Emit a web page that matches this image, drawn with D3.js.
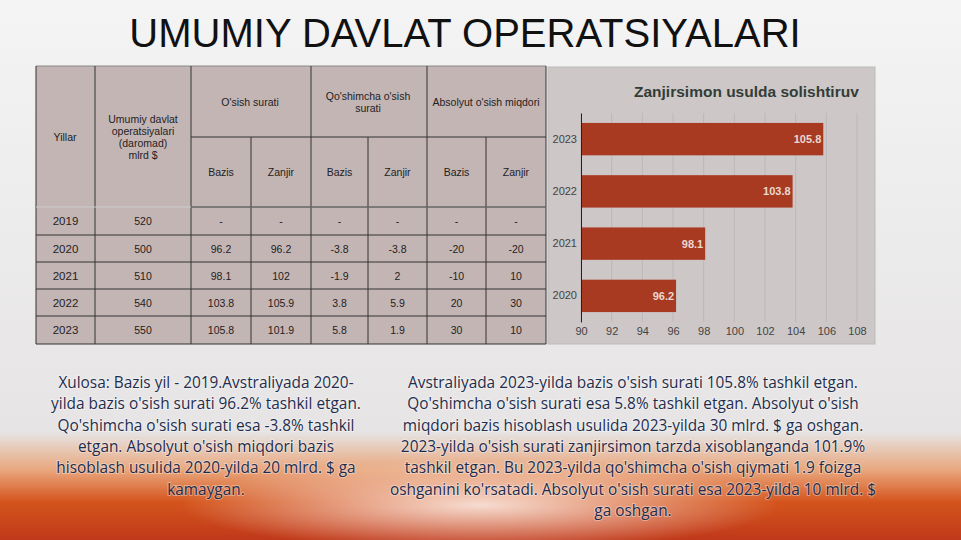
<!DOCTYPE html>
<html><head><meta charset="utf-8">
<script src="https://cdn.jsdelivr.net/npm/d3@7"></script>
<style>body{margin:0;overflow:hidden}</style>
</head><body>
<svg id="c" width="961" height="540"></svg>
<script>
const years = ["2019","2020","2021","2022","2023"];
const income = ["520","500","510","540","550"];
const bazisRate = ["-","96.2","98.1","103.8","105.8"];
const zanjirRate = ["-","96.2","102","105.9","101.9"];
const bazisExtra = ["-","-3.8","-1.9","3.8","5.8"];
const zanjirExtra = ["-","-3.8","2","5.9","1.9"];
const bazisAbs = ["-","-20","-10","20","30"];
const zanjirAbs = ["-","-20","10","30","10"];
const chartYears = ["2020","2021","2022","2023"];
const chartValues = [96.2,98.1,103.8,105.8];
const xTicks = [90,92,94,96,98,100,102,104,106,108];
const leftText = ["Xulosa: Bazis yil - 2019.Avstraliyada 2020-","yilda bazis o'sish surati 96.2% tashkil etgan.","Qo'shimcha o'sish surati esa -3.8% tashkil","etgan. Absolyut o'sish miqdori bazis","hisoblash usulida 2020-yilda 20 mlrd. $ ga","kamaygan."];
const rightText = ["Avstraliyada 2023-yilda bazis o'sish surati 105.8% tashkil etgan.","Qo'shimcha o'sish surati esa 5.8% tashkil etgan. Absolyut o'sish","miqdori bazis hisoblash usulida 2023-yilda 30 mlrd. $ ga oshgan.","2023-yilda o'sish surati zanjirsimon tarzda xisoblanganda 101.9%","tashkil etgan. Bu 2023-yilda qo'shimcha o'sish qiymati 1.9 foizga","oshganini ko'rsatadi. Absolyut o'sish surati esa 2023-yilda 10 mlrd. $","ga oshgan."];

const svg = d3.select("#c");
const defs = svg.append("defs");
const bg = defs.append("linearGradient").attr("id","bg").attr("x1",0).attr("y1",0).attr("x2",0).attr("y2",1);
bg.append("stop").attr("offset","0").attr("stop-color","#f4f4f4");
bg.append("stop").attr("offset","0.8").attr("stop-color","#e6e4e4");
bg.append("stop").attr("offset","0.87").attr("stop-color","#e9a77e");
bg.append("stop").attr("offset","0.93").attr("stop-color","#d4541c");
bg.append("stop").attr("offset","1").attr("stop-color","#c0391a");
svg.append("rect").attr("width",961).attr("height",540).attr("fill","url(#bg)");
const rg = defs.append("radialGradient").attr("id","glow").attr("cx",0.5).attr("cy",0.5).attr("r",0.5);
rg.append("stop").attr("offset","0").attr("stop-color","#ffffff").attr("stop-opacity",0.8);
rg.append("stop").attr("offset","1").attr("stop-color","#ffffff").attr("stop-opacity",0);
svg.append("ellipse").attr("cx",480).attr("cy",505).attr("rx",300).attr("ry",45).attr("fill","url(#glow)");

svg.append("text").attr("x",465).attr("y",47).attr("text-anchor","middle")
  .attr("font-family","Liberation Sans").attr("font-size",40).attr("fill","#111").text("UMUMIY DAVLAT OPERATSIYALARI");

// table
const colX = [36,95,191,251,311,368,427,486,546];
const rowY = [207,235,262,289,316,344];
const tg = svg.append("g").attr("font-family","Liberation Sans").attr("fill","#222");
tg.append("rect").attr("x",36).attr("y",66).attr("width",510).attr("height",278).attr("fill","#c4b5b5");
const line=(x1,y1,x2,y2,c)=>tg.append("line").attr("x1",x1).attr("y1",y1).attr("x2",x2).attr("y2",y2).attr("stroke",c||"#333").attr("stroke-width",1);
line(36,66,546,66,"#888");
line(191,137,546,137);
colX.forEach((x,i)=>{ line(x,(i<=2||i===4||i===6||i===8)?66:137,x,344,"#333"); });
line(36,207,546,207,"#ccc");
line(191,207,546,207);
rowY.slice(1).forEach(y=>line(36,y,546,y));
const t=(x,y,s,fs)=>tg.append("text").attr("x",x).attr("y",y).attr("text-anchor","middle").attr("font-size",fs||11).attr("fill","#222").text(s);
t(65,141,"Yillar",10.5);
["Umumiy davlat","operatsiyalari","(daromad)","mlrd $"].forEach((s,i)=>t(143,123+i*12,s,10.5));
t(250,106,"O'sish surati",10.5);
t(368,100,"Qo'shimcha o'sish",10.5); t(368,112,"surati",10.5);
t(486,106,"Absolyut o'sish miqdori",10.5);
["Bazis","Zanjir","Bazis","Zanjir","Bazis","Zanjir"].forEach((s,i)=>t((colX[i+2]+colX[i+3])/2,176,s,10.5));
const cols=[years,income,bazisRate,zanjirRate,bazisExtra,zanjirExtra,bazisAbs,zanjirAbs];
years.forEach((y,r)=>{
  const cy=(rowY[r]+rowY[r+1])/2+4;
  cols.forEach((c,k)=>t((colX[k]+colX[k+1])/2,cy,c[r],k===0?11.5:10.5));
});

// chart
const cg = svg.append("g").attr("font-family","Liberation Sans");
cg.append("rect").attr("x",548).attr("y",67).attr("width",327).attr("height",277).attr("fill","#cdc7c7").attr("stroke","#bbb");
cg.append("text").attr("x",634).attr("y",97).attr("font-weight","bold").attr("font-size",15.5).attr("fill","#333d38").text("Zanjirsimon usulda solishtiruv");
const x = d3.scaleLinear().domain([90,108]).range([581,857]);
const y = d3.scaleBand().domain(chartYears.slice().reverse()).range([113,322]).paddingInner(0.38).paddingOuter(0.19);
xTicks.forEach(v=>cg.append("line").attr("x1",x(v)).attr("x2",x(v)).attr("y1",113).attr("y2",322).attr("stroke","#bdb7b7"));
cg.selectAll("rect.bar").data(chartValues).join("rect").attr("class","bar")
  .attr("x",x(90)).attr("y",(d,i)=>y(chartYears[i])).attr("width",d=>x(d)-x(90)).attr("height",y.bandwidth()).attr("fill","#a83a22");
cg.selectAll("text.lab").data(chartValues).join("text").attr("class","lab")
  .attr("x",d=>x(d)-2).attr("y",(d,i)=>y(chartYears[i])+y.bandwidth()/2+4).attr("text-anchor","end")
  .attr("font-weight","bold").attr("font-size",11).attr("fill","#e8d8d0").text(d=>d.toFixed(1));
const xa = cg.append("g").attr("transform","translate(0,322)").call(d3.axisBottom(x).tickValues(xTicks).tickSize(0).tickPadding(5));
xa.select(".domain").remove();
xa.selectAll("text").attr("font-size",11).attr("fill","#444").attr("font-family","Liberation Sans");
const ya = cg.append("g").attr("transform","translate(581,0)").call(d3.axisLeft(y).tickSize(0).tickPadding(4));
ya.select(".domain").attr("stroke","#222");
ya.selectAll("text").attr("font-size",11).attr("fill","#444").attr("font-family","Liberation Sans");

// texts
const tx = svg.append("g").attr("font-family","Open Sans").attr("font-size",15.4).attr("fill","#1f2d4d").attr("text-anchor","middle")
  .style("paint-order","stroke").attr("stroke","#ffffff").attr("stroke-opacity",0.35).attr("stroke-width",2);
leftText.forEach((s,i)=>tx.append("text").attr("x",206).attr("y",388+i*21.3).text(s));
rightText.forEach((s,i)=>tx.append("text").attr("x",633).attr("y",388+i*21.3).text(s));
</script>
</body></html>
